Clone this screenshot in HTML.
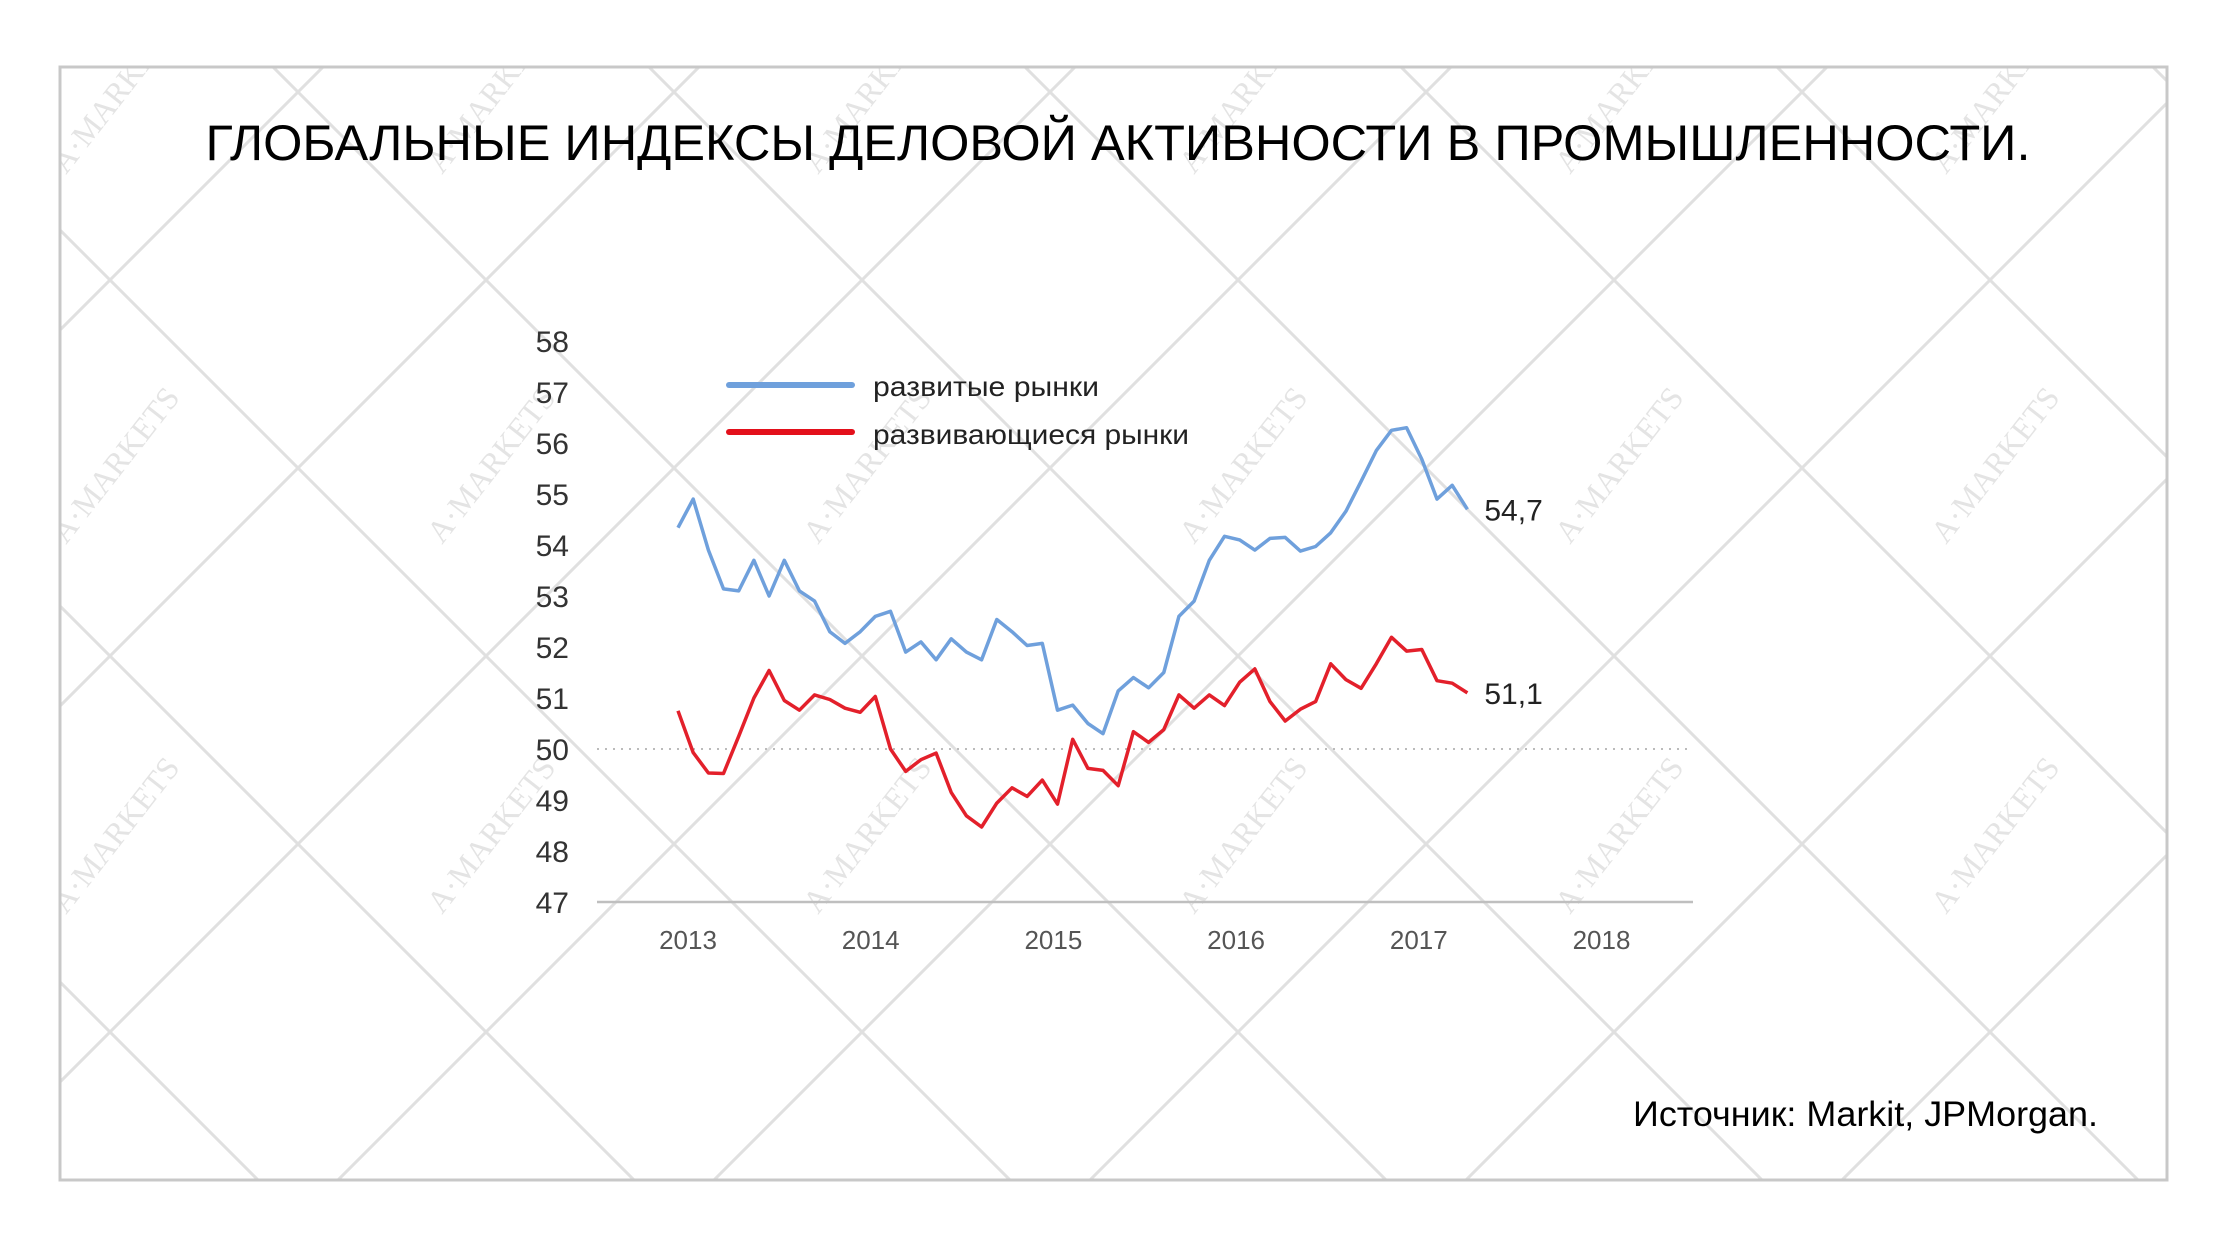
<!DOCTYPE html>
<html><head><meta charset="utf-8">
<style>
html,body{margin:0;padding:0;background:#fff;overflow:hidden;width:2226px;height:1258px;}
svg{display:block;font-family:"Liberation Sans",sans-serif;}
</style></head>
<body>
<svg id="chart" width="2226" height="1258" viewBox="0 0 2226 1258">
  <defs><clipPath id="fc"><rect x="60" y="67" width="2107" height="1113"/></clipPath></defs>
  <rect x="0" y="0" width="2226" height="1258" fill="#fff"/>
  <g id="lattice" clip-path="url(#fc)"></g>
  <g id="wm" clip-path="url(#fc)"></g>
  <rect x="60" y="67" width="2107" height="1113" fill="none" stroke="#c8c8c8" stroke-width="3"/>
  <text x="1118" y="160" text-anchor="middle" font-size="50" textLength="1825" lengthAdjust="spacingAndGlyphs" fill="#000">ГЛОБАЛЬНЫЕ ИНДЕКСЫ ДЕЛОВОЙ АКТИВНОСТИ В ПРОМЫШЛЕННОСТИ.</text>
  <g id="yaxis"></g>
  <g id="xaxis"></g>
  <g id="plot"></g>
  <g>
    <line x1="729" y1="385" x2="852" y2="385" stroke="#6fa0dc" stroke-width="6" stroke-linecap="round"/>
    <text x="873" y="396" font-size="28" textLength="226" lengthAdjust="spacingAndGlyphs" fill="#222">развитые рынки</text>
    <line x1="729" y1="432" x2="852" y2="432" stroke="#e3101b" stroke-width="6" stroke-linecap="round"/>
    <text x="873" y="444" font-size="28" textLength="316" lengthAdjust="spacingAndGlyphs" fill="#222">развивающиеся рынки</text>
  </g>
  <text x="2098" y="1126" text-anchor="end" font-size="35" textLength="465" lengthAdjust="spacingAndGlyphs" fill="#000">Источник: Markit, JPMorgan.</text>
</svg>
<script>
const yTicks = [47,48,49,50,51,52,53,54,55,56,57,58];
const years = ["2013","2014","2015","2016","2017","2018"];
const developed = [54.34,54.9,53.9,53.14,53.1,53.7,53.0,53.7,53.1,52.9,52.3,52.07,52.3,52.6,52.7,51.9,52.1,51.75,52.16,51.9,51.75,52.54,52.3,52.03,52.07,50.76,50.86,50.5,50.3,51.14,51.4,51.2,51.5,52.6,52.9,53.7,54.17,54.1,53.9,54.13,54.15,53.88,53.97,54.24,54.66,55.25,55.85,56.25,56.3,55.68,54.9,55.17,54.7];
const emerging = [50.75,49.93,49.53,49.52,50.25,51.0,51.54,50.95,50.76,51.06,50.97,50.8,50.72,51.03,50.0,49.56,49.79,49.92,49.15,48.69,48.47,48.94,49.24,49.07,49.39,48.92,50.19,49.62,49.58,49.28,50.34,50.13,50.38,51.06,50.8,51.06,50.85,51.31,51.57,50.93,50.55,50.78,50.93,51.67,51.36,51.19,51.67,52.19,51.92,51.95,51.34,51.29,51.1];
const lastLabels = ["54,7","51,1"];

const NS = "http://www.w3.org/2000/svg";
function mk(tag, attrs, parent){const e=document.createElementNS(NS,tag);for(const k in attrs)e.setAttribute(k,attrs[k]);parent.appendChild(e);return e;}
const Y = v => 902 - (v-47)*51;
const X = i => 678 + i*15.18;
const XY = k => 688 + k*182.7;

const lat = document.getElementById('lattice');
for(let k=-8;k<10;k++){
  const c1 = 170 + k*376;
  const l1 = mk('line',{x1:0,y1:c1,x2:2300,y2:2300+c1,stroke:'#e0e0e0','stroke-width':3},lat);
  
  
  const c2 = 390 + k*376 + 1504;
  const l2 = mk('line',{x1:0,y1:c2,x2:2300,y2:c2-2300,stroke:'#e0e0e0','stroke-width':3},lat);
  
  
}
const wm = document.getElementById('wm');
for(let r=0;r<3;r++){for(let c=0;c<6;c++){
  const x=66+c*376, y=175+r*370;
  const t = mk('text',{x:x,y:y,'font-size':32,fill:'#e4e4e4','font-family':'Liberation Serif, serif',transform:`rotate(-52 ${x} ${y})`},wm);
  t.textContent='A·MARKETS';
  
  
}}

const ya = document.getElementById('yaxis');
yTicks.forEach(v=>{
  const t = mk('text',{x:569,y:Y(v)+11,'text-anchor':'end','font-size':30,fill:'#333'},ya);
  t.textContent = v;
  
  
});
const xa = document.getElementById('xaxis');
const axl = mk('line',{x1:597,y1:Y(47),x2:1693,y2:Y(47),stroke:'#bfbfbf','stroke-width':2.5},xa);


years.forEach((y,k)=>{
  const t = mk('text',{x:XY(k),y:949,'text-anchor':'middle','font-size':26,fill:'#555'},xa);
  t.textContent = y;
  
  
});
const plot = document.getElementById('plot');
const ref = mk('line',{x1:597,y1:Y(50),x2:1693,y2:Y(50),stroke:'#bbb','stroke-width':2,'stroke-dasharray':'2 6'},plot);



function series(data,color,name,label){
  const d = data.map((v,i)=>(i?'L':'M')+X(i).toFixed(1)+' '+Y(v).toFixed(1)).join(' ');
  const p = mk('path',{d:d,fill:'none',stroke:color,'stroke-width':3.5,'stroke-linejoin':'round'},plot);
  
  
  const n = data.length-1;
  const t = mk('text',{x:X(n)+17,y:Y(data[n])+11,'font-size':30,fill:'#222'},plot);
  t.textContent = label;
  
  
}
series(developed,'#6fa0dc','developed-markets-line',lastLabels[0]);
series(emerging,'#e3202b','emerging-markets-line',lastLabels[1]);
</script>
</body></html>
